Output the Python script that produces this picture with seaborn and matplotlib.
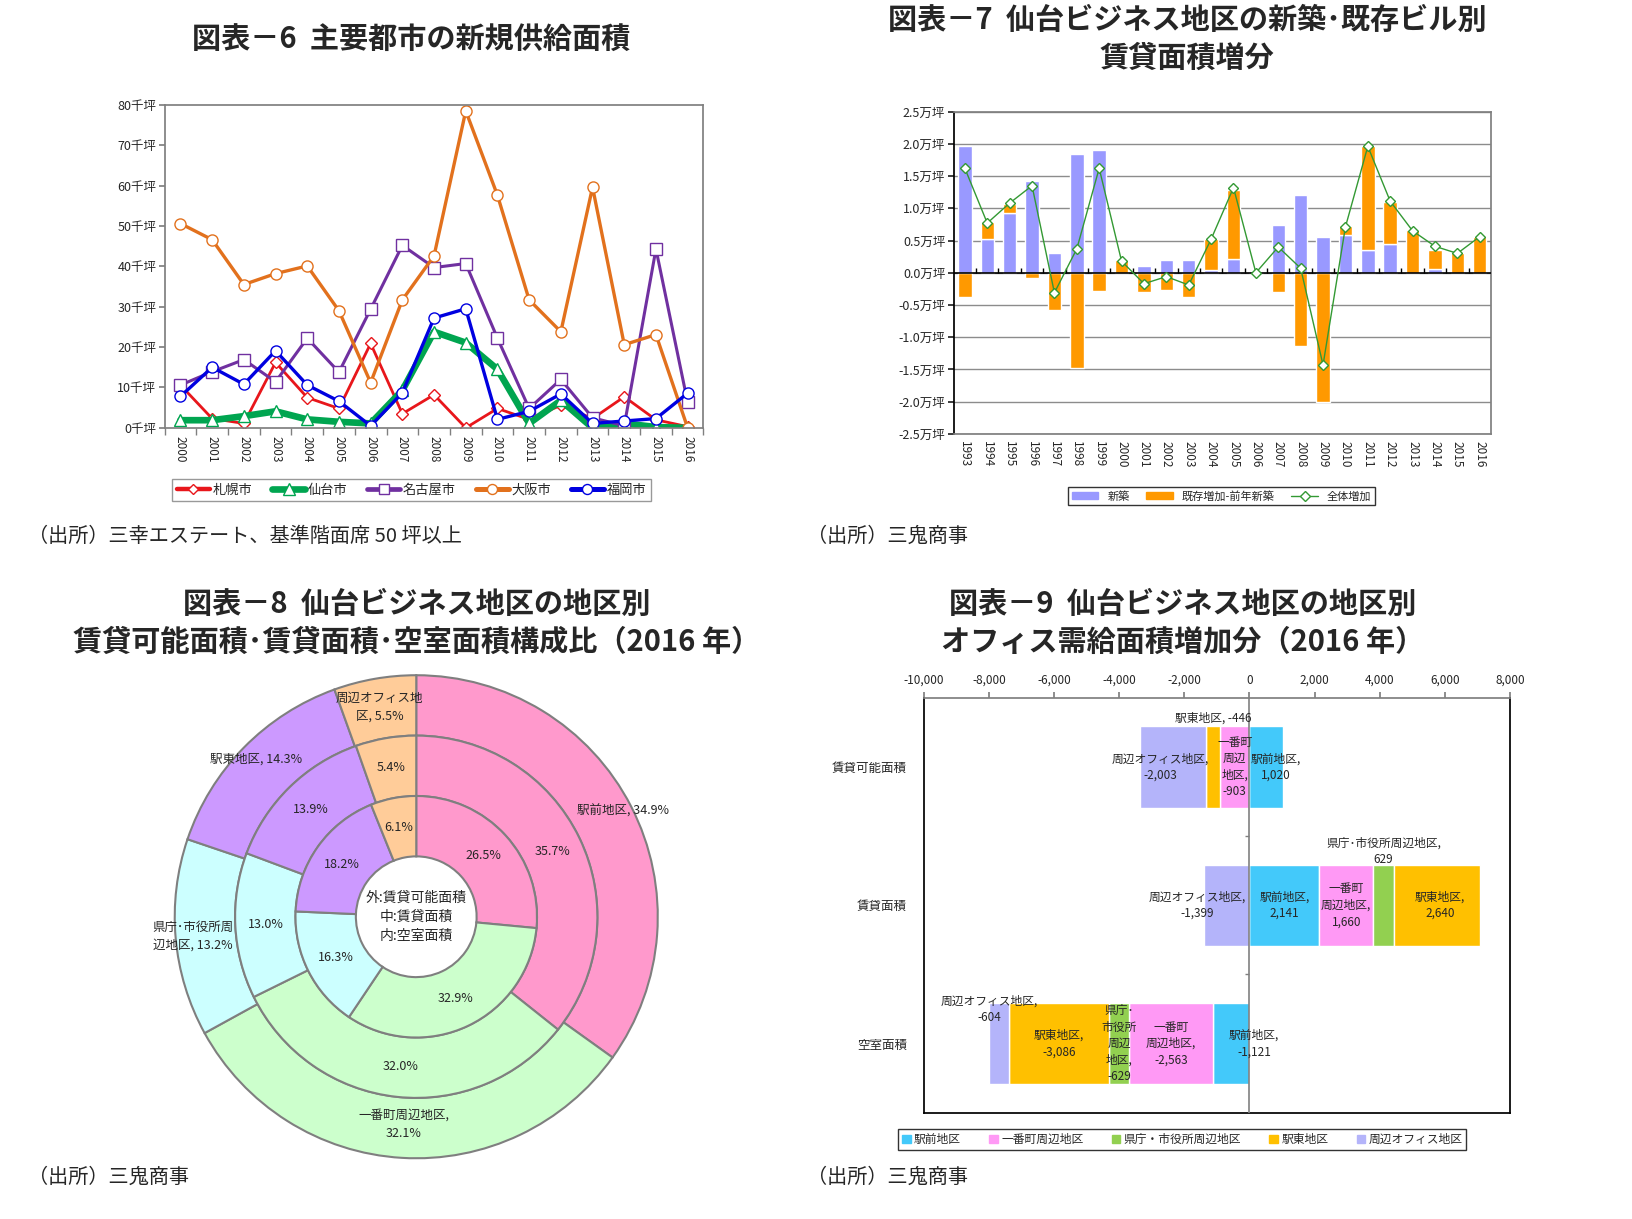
import matplotlib
matplotlib.use('Agg')
import matplotlib.pyplot as plt
from matplotlib.patches import Patch
from matplotlib.lines import Line2D
import seaborn as sns
import numpy as np

# ---- 図表-6 data (千坪)
years6 = list(range(2000, 2017))
cities = ['札幌市', '仙台市', '名古屋市', '大阪市', '福岡市']
sapporo = [10.6, 2.3, 1.1, 16.2, 7.5, 4.8, 20.9, 3.5, 8.2, 0.0, 4.8, 2.1, 5.6, 2.3, 7.7, 2.0, 0.3]
sendai = [1.9, 1.9, 2.9, 4.1, 2.1, 1.5, 1.1, 9.3, 23.8, 21.1, 14.5, 1.1, 6.8, 0.0, 1.1, 0.2, 0.0]
nagoya = [10.6, 13.9, 16.9, 11.4, 22.2, 13.8, 29.4, 45.2, 39.7, 40.7, 22.2, 4.8, 12.0, 2.5, 0.5, 44.3, 6.3]
osaka = [50.6, 46.6, 35.5, 38.2, 40.1, 29.0, 11.2, 31.7, 42.6, 78.5, 57.6, 31.7, 23.8, 59.6, 20.6, 23.1, 0.0]
fukuoka = [7.8, 15.0, 10.8, 19.1, 10.6, 6.6, 0.5, 8.7, 27.2, 29.5, 2.1, 4.1, 8.4, 1.1, 1.7, 2.3, 8.6]

# ---- 図表-7 data (万坪)
years7 = list(range(1993, 2017))
shinchiku = [1.97, 0.52, 0.93, 1.42, 0.30, 1.84, 1.91, 0.0, 0.11, 0.20, 0.19, 0.04,
             0.22, 0.0, 0.74, 1.21, 0.56, 0.59, 0.35, 0.44, 0.0, 0.06, 0.0, 0.0]
kizon = [-0.38, 0.27, 0.13, -0.08, -0.58, -1.48, -0.29, 0.19, -0.30, -0.26, -0.38, 0.48,
         1.07, -0.01, -0.30, -1.14, -2.00, 0.13, 1.61, 0.65, 0.66, 0.30, 0.30, 0.55]
zentai = [1.62, 0.77, 1.08, 1.35, -0.31, 0.37, 1.62, 0.18, -0.17, -0.06, -0.19, 0.52,
          1.32, 0.00, 0.40, 0.07, -1.43, 0.71, 1.96, 1.11, 0.65, 0.41, 0.30, 0.56]
series7 = ['新築', '既存増加-前年新築', '全体増加']

# ---- 図表-8 data (%)
areas = ['駅前地区', '一番町周辺地区', '県庁・市役所周辺地区', '駅東地区', '周辺オフィス地区']
outer_pct = [34.9, 32.1, 13.2, 14.3, 5.5]    # 賃貸可能面積
middle_pct = [35.7, 32.0, 13.0, 13.9, 5.4]   # 賃貸面積
inner_pct = [26.5, 32.9, 16.3, 18.2, 6.1]    # 空室面積

# ---- 図表-9 data (坪)
measures = ['賃貸可能面積', '賃貸面積', '空室面積']
kashi_kanou = [1020, -903, 0, -446, -2003]
chintai = [2141, 1660, 629, 2640, -1399]
kuushitsu = [-1121, -2563, -629, -3086, -604]

sns.set_theme(style='white')
plt.rcParams['font.family'] = ['Noto Sans CJK JP', 'DejaVu Sans']
plt.rcParams['axes.unicode_minus'] = False

fig = plt.figure(figsize=(16.33, 12.19), dpi=100)
GRAY = '#808080'

# ================= 図表-6
ax6 = fig.add_axes([0.1008, 0.649, 0.330, 0.265])
styles6 = {
    '札幌市': dict(c='#E8161B', lw=2.0, m='D', ms=6),
    '仙台市': dict(c='#00A550', lw=4.8, m='^', ms=9),
    '名古屋市': dict(c='#7030A0', lw=2.2, m='s', ms=8),
    '大阪市': dict(c='#E2711D', lw=2.4, m='o', ms=8),
    '福岡市': dict(c='#0000E0', lw=2.4, m='o', ms=8),
}
handles6 = []
for name, vals in zip(cities, [sapporo, sendai, nagoya, osaka, fukuoka]):
    st = styles6[name]
    sns.lineplot(x=years6, y=vals, ax=ax6, color=st['c'], lw=st['lw'], marker=st['m'],
                 markersize=st['ms'], markerfacecolor='white', markeredgecolor=st['c'],
                 markeredgewidth=1.0)
    handles6.append(Line2D([], [], color=st['c'], lw=min(st['lw'] + 1.2, 4.8), marker=st['m'],
                           markersize=st['ms'] * 0.9, markerfacecolor='white',
                           markeredgecolor=st['c']))
ax6.set_xlim(1999.5, 2016.5)
ax6.set_ylim(0, 80)
ax6.set_yticks(range(0, 81, 10))
ax6.set_yticklabels([f'{v}千坪' for v in range(0, 81, 10)], fontsize=9)
ax6.set_xticks(years6)
ax6.set_xticklabels([str(y) for y in years6], rotation=-90, fontsize=8.5)
ax6.set_xticks(np.arange(1999.5, 2016.6, 1), minor=True)
ax6.tick_params(axis='x', which='major', length=0, pad=6)
ax6.tick_params(axis='x', which='minor', length=5, direction='out', color=GRAY, bottom=True)
ax6.tick_params(axis='y', length=4, direction='out', color=GRAY, left=True, pad=2)
for sp in ax6.spines.values():
    sp.set_color(GRAY)
ax6.set_xlabel('')
fig.legend(handles6, cities, loc='center', bbox_to_anchor=(0.252, 0.598), ncol=5,
           frameon=True, fancybox=False, edgecolor=GRAY, fontsize=9.5, handlelength=2.5,
           columnspacing=1.5, handletextpad=0.2, borderpad=0.35)

# ================= 図表-7
ax7 = fig.add_axes([0.584, 0.644, 0.329, 0.2645])
x7 = np.arange(len(years7))
ax7.bar(x7, shinchiku, width=0.6, color='#9999FF', zorder=2)
bottom7 = np.where(np.array(kizon) > 0, shinchiku, 0)
ax7.bar(x7, kizon, bottom=bottom7, width=0.6, color='#FF9900', zorder=2)
ax7.axhline(0, color='black', lw=1.2, zorder=3)
ax7.vlines(x7[1:] - 0.5, 0, 0.07, color='black', lw=1, zorder=3)
sns.lineplot(x=x7, y=zentai, ax=ax7, color='#339933', lw=1, marker='D', markersize=5,
             markerfacecolor='white', markeredgecolor='#339933', markeredgewidth=1, zorder=4)
ax7.set_xlim(-0.5, len(years7) - 0.5)
ax7.set_ylim(-2.5, 2.5)
yt7 = np.arange(-2.5, 2.51, 0.5)
ax7.set_yticks(yt7)
ax7.set_yticklabels([f'{(0.0 if abs(v) < 1e-9 else v):.1f}万坪' for v in yt7], fontsize=9)
ax7.yaxis.grid(True, color='#8c8c8c', lw=1)
ax7.set_axisbelow(True)
ax7.set_xticks(x7)
ax7.set_xticklabels([str(y) for y in years7], rotation=-90, fontsize=8.5)
ax7.tick_params(axis='x', length=0, pad=5)
ax7.tick_params(axis='y', length=4, direction='out', left=True, pad=2)
for sp in ax7.spines.values():
    sp.set_color(GRAY)
ax7.spines['left'].set_color('black')
handles7 = [Patch(color='#9999FF'), Patch(color='#FF9900'),
            Line2D([], [], color='#339933', lw=1, marker='D', markersize=5,
                   markerfacecolor='white', markeredgecolor='#339933')]
fig.legend(handles7, series7, loc='center', bbox_to_anchor=(0.748, 0.593), ncol=3,
           frameon=True, fancybox=False, edgecolor='black', fontsize=8, handlelength=2.4,
           handleheight=0.6, columnspacing=1.5, borderpad=0.3)

# ================= 図表-8
ax8 = fig.add_axes([0.107, 0.0498, 0.2958, 0.3963])
pie_colors = ['#FF99CC', '#CCFFCC', '#CCFFFF', '#CC99FF', '#FFCC99']
wp = dict(width=0.25, edgecolor='#7f7f7f', linewidth=1.5)
w_out, _ = ax8.pie(outer_pct, radius=1.0, colors=pie_colors, startangle=90,
                   counterclock=False, wedgeprops=wp)
ax8.pie(middle_pct, radius=0.75, colors=pie_colors, startangle=90, counterclock=False,
        wedgeprops=wp, autopct='%.1f%%', pctdistance=0.625 / 0.75,
        textprops=dict(fontsize=9))
ax8.pie(inner_pct, radius=0.5, colors=pie_colors, startangle=90, counterclock=False,
        wedgeprops=wp, autopct='%.1f%%', pctdistance=0.75, textprops=dict(fontsize=9))
outer_names = ['駅前地区', '一番町周辺地区,\n', '県庁･市役所周\n辺地区', '駅東地区', '周辺オフィス地\n区']
outer_r = [0.96, 0.86, 0.93, 0.93, 0.88]
for w, nm, r, p in zip(w_out, outer_names, outer_r, outer_pct):
    ang = np.deg2rad((w.theta1 + w.theta2) / 2)
    txt = f'{nm}{p}%' if nm.endswith('\n') else f'{nm}, {p}%'
    ax8.text(r * np.cos(ang), r * np.sin(ang), txt, ha='center', va='center',
             fontsize=9, linespacing=1.5)
ax8.text(0, 0, '外:賃貸可能面積\n中:賃貸面積\n内:空室面積', ha='center', va='center',
         fontsize=10, linespacing=1.45)
ax8.set_xlim(-1, 1)
ax8.set_ylim(-1, 1)
ax8.set_aspect('equal')

# ================= 図表-9
ax9 = fig.add_axes([0.5657, 0.0872, 0.359, 0.3402])
colors9 = ['#43C9FA', '#FF99F5', '#92D050', '#FFC000', '#B4B4FA']
names9 = [
    ['駅前地区', '一番町\n周辺\n地区', None, '駅東地区', '周辺オフィス地区'],
    ['駅前地区', '一番町\n周辺地区', '県庁･市役所周辺地区', '駅東地区', '周辺オフィス地区'],
    ['駅前地区', '一番町\n周辺地区', '県庁･\n市役所\n周辺\n地区', '駅東地区', '周辺オフィス地区'],
]
# label nudges (data units, rows)
nudge9 = {(0, 0): (300, 0), (0, 3): (0, -0.355), (0, 4): (-400, 0),
          (1, 2): (0, -0.39), (1, 3): (100, 0), (1, 4): (-900, 0),
          (2, 0): (700, 0), (2, 4): (-300, -0.25)}
bar_h = 0.59
for r, vals in enumerate([kashi_kanou, chintai, kuushitsu]):
    pos, neg = 0, 0
    for i, v in enumerate(vals):
        if v >= 0:
            left = pos
            pos += v
        else:
            left = neg
            neg += v
        if v == 0:
            continue
        ax9.barh(r, v, left=left, height=bar_h, color=colors9[i], zorder=2)
        dx, dy = nudge9.get((r, i), (0, 0))
        sep = ' ' if (r, i) == (0, 3) else '\n'
        ax9.text(left + v / 2 + dx, r + dy, f'{names9[r][i]},{sep}{v:,}', ha='center',
                 va='center', fontsize=8.5, linespacing=1.35, zorder=5)
ax9.axvline(0, color=GRAY, lw=1.2, zorder=3)
ax9.hlines([0.5, 1.5], -150, 0, color=GRAY, lw=1, zorder=3)
ax9.set_xlim(-10000, 8000)
ax9.set_ylim(2.5, -0.5)
xt9 = list(range(-10000, 8001, 2000))
ax9.set_xticks(xt9)
ax9.set_xticklabels([f'{v:,}' for v in xt9], fontsize=8.5)
ax9.xaxis.tick_top()
ax9.tick_params(axis='x', length=4, direction='out', color=GRAY, top=True, pad=4)
ax9.set_yticks([0, 1, 2])
ax9.set_yticklabels(measures, fontsize=9)
ax9.tick_params(axis='y', length=0, pad=12)
for sp in ax9.spines.values():
    sp.set_color('black')
ax9.spines['top'].set_color(GRAY)
handles9 = [Patch(color=c) for c in colors9]
fig.legend(handles9, areas, loc='center', bbox_to_anchor=(0.724, 0.065), ncol=5,
           frameon=True, fancybox=False, edgecolor='black', fontsize=8.5, handlelength=0.7,
           handleheight=0.7, handletextpad=0.3, columnspacing=2.4, borderpad=0.35)

# ================= titles and sources
tkw = dict(ha='center', va='center', fontsize=21, fontweight='bold', linespacing=1.3)
fig.text(0.252, 0.9675, '図表－6  主要都市の新規供給面積', **tkw)
fig.text(0.727, 0.968, '図表－7  仙台ビジネス地区の新築･既存ビル別\n賃貸面積増分', **tkw)
fig.text(0.255, 0.489, '図表－8  仙台ビジネス地区の地区別\n賃貸可能面積･賃貸面積･空室面積構成比（2016 年）', **tkw)
fig.text(0.724, 0.489, '図表－9  仙台ビジネス地区の地区別\nオフィス需給面積増加分（2016 年）', **tkw)

skw = dict(ha='left', va='center', fontsize=14.5)
fig.text(0.017, 0.560, '（出所）三幸エステート、基準階面席 50 坪以上', **skw)
fig.text(0.494, 0.560, '（出所）三鬼商事', **skw)
fig.text(0.017, 0.034, '（出所）三鬼商事', **skw)
fig.text(0.494, 0.034, '（出所）三鬼商事', **skw)

fig.savefig('out.png', dpi=100, facecolor='white')
